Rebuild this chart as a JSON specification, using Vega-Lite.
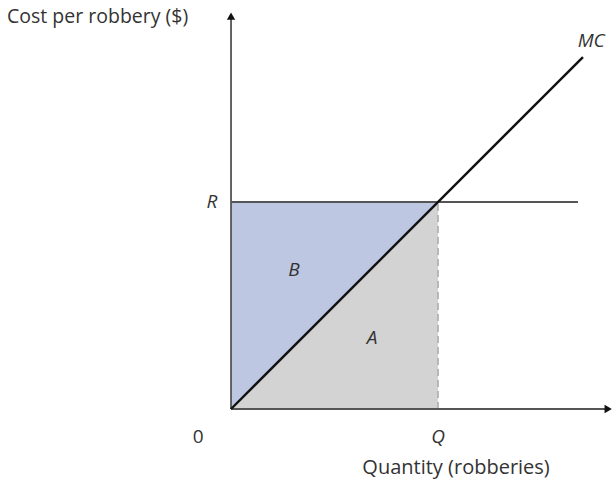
{
  "$schema": "https://vega.github.io/schema/vega-lite/v6.json",
  "width": 614,
  "height": 483,
  "autosize": "none",
  "padding": 0,
  "config": {"view": {"stroke": null}, "text": {"font": "Open Sans", "fontSize": 19, "color": "#333333"}},
  "layer": [
    {
      "data": {"values": [{"x": 0, "lo": 0, "hi": 10}, {"x": 10, "lo": 10, "hi": 10}]},
      "mark": {"type": "area", "color": "#bdc7e1", "opacity": 1},
      "encoding": {
        "x": {"field": "x", "type": "quantitative", "scale": {"domain": [-11.16, 18.5], "nice": false, "zero": false}, "axis": null},
        "y": {"field": "lo", "type": "quantitative", "scale": {"domain": [-3.575, 19.76], "nice": false, "zero": false}, "axis": null},
        "y2": {"field": "hi"}
      }
    },
    {
      "data": {"values": [{"x": 0, "lo": 0, "hi": 0}, {"x": 10, "lo": 0, "hi": 10}]},
      "mark": {"type": "area", "color": "#d3d3d4", "opacity": 1},
      "encoding": {
        "x": {"field": "x", "type": "quantitative"},
        "y": {"field": "lo", "type": "quantitative"},
        "y2": {"field": "hi"}
      }
    },
    {
      "data": {"values": [{"x": 10, "y": 0, "y2": 10}]},
      "mark": {"type": "rule", "color": "#aaaaaa", "strokeWidth": 1.5, "strokeDash": [7, 4]},
      "encoding": {
        "x": {"field": "x", "type": "quantitative"},
        "y": {"field": "y", "type": "quantitative"},
        "y2": {"field": "y2"}
      }
    },
    {
      "data": {"values": [{"x": 0, "x2": 16.76, "y": 10, "y2": 10, "part": "R"}, {"x": 0, "x2": 0, "y": 0, "y2": 18.9, "part": "yaxis"}, {"x": 0, "x2": 18.2, "y": 0, "y2": 0, "part": "xaxis"}]},
      "mark": {"type": "rule", "color": "#555555", "strokeWidth": 1.8},
      "encoding": {
        "x": {"field": "x", "type": "quantitative"},
        "x2": {"field": "x2"},
        "y": {"field": "y", "type": "quantitative"},
        "y2": {"field": "y2"}
      }
    },
    {
      "data": {"values": [{"x": 0, "x2": 17, "y": 0, "y2": 17}]},
      "mark": {"type": "rule", "color": "#111111", "strokeWidth": 2.4},
      "encoding": {
        "x": {"field": "x", "type": "quantitative"},
        "x2": {"field": "x2"},
        "y": {"field": "y", "type": "quantitative"},
        "y2": {"field": "y2"}
      }
    },
    {
      "data": {"values": [{"x": 0, "y": 18.98, "dir": "up"}]},
      "mark": {"type": "point", "shape": "triangle-up", "filled": true, "color": "#111111", "size": 70, "opacity": 1},
      "encoding": {
        "x": {"field": "x", "type": "quantitative"},
        "y": {"field": "y", "type": "quantitative"}
      }
    },
    {
      "data": {"values": [{"x": 18.22, "y": 0, "dir": "right"}]},
      "mark": {"type": "point", "shape": "triangle-right", "filled": true, "color": "#111111", "size": 70, "opacity": 1},
      "encoding": {
        "x": {"field": "x", "type": "quantitative"},
        "y": {"field": "y", "type": "quantitative"}
      }
    },
    {
      "data": {"values": [
        {"x": -10.82, "y": 18.94, "label": "Cost per robbery ($)"}
      ]},
      "mark": {"type": "text", "align": "left", "baseline": "middle", "fontSize": 19.5},
      "encoding": {
        "x": {"field": "x", "type": "quantitative"},
        "y": {"field": "y", "type": "quantitative"},
        "text": {"field": "label"}
      }
    },
    {
      "data": {"values": [
        {"x": 10.87, "y": -2.85, "label": "Quantity (robberies)"}
      ]},
      "mark": {"type": "text", "align": "center", "baseline": "middle", "fontSize": 20},
      "encoding": {
        "x": {"field": "x", "type": "quantitative"},
        "y": {"field": "y", "type": "quantitative"},
        "text": {"field": "label"}
      }
    },
    {
      "data": {"values": [
        {"x": -1.59, "y": -1.35, "label": "0"}
      ]},
      "mark": {"type": "text", "align": "center", "baseline": "middle"},
      "encoding": {
        "x": {"field": "x", "type": "quantitative"},
        "y": {"field": "y", "type": "quantitative"},
        "text": {"field": "label"}
      }
    },
    {
      "data": {"values": [
        {"x": 10, "y": -1.35, "label": "Q"},
        {"x": -0.92, "y": 10, "label": "R"},
        {"x": 3.04, "y": 6.71, "label": "B"},
        {"x": 6.81, "y": 3.43, "label": "A"},
        {"x": 17.4, "y": 17.8, "label": "MC"}
      ]},
      "mark": {"type": "text", "align": "center", "baseline": "middle", "fontStyle": "italic"},
      "encoding": {
        "x": {"field": "x", "type": "quantitative"},
        "y": {"field": "y", "type": "quantitative"},
        "text": {"field": "label"}
      }
    }
  ]
}
